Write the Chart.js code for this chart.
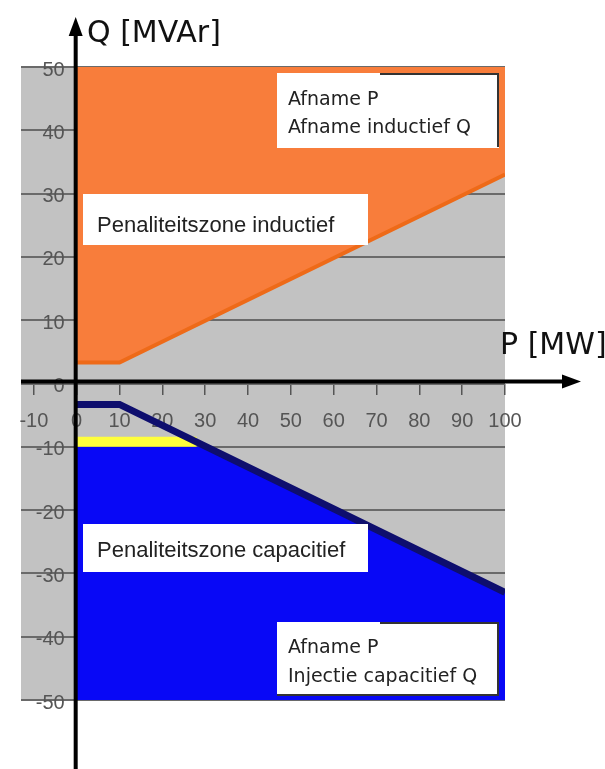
<!DOCTYPE html>
<html>
<head>
<meta charset="utf-8">
<script src="https://cdn.jsdelivr.net/npm/chart.js@4.4.1/dist/chart.umd.min.js"></script>
<style>
  html, body { margin: 0; padding: 0; background: #fff; }
  #wrap { width: 605px; height: 769px; }
</style>
</head>
<body>
<div id="wrap"><canvas id="pq-chart" width="605" height="769"></canvas></div>
<script>
// ===== P-Q diagram: penaliteitszones inductief / capacitief =====

// grens inductieve zone (onderkant oranje vlak)
const P_INDUCTIEF = [0, 10, 100];
const Q_INDUCTIEF = [3.3, 3.3, 33];

// grens capacitieve zone (donkerblauwe lijn)
const P_CAPACITIEF = [0, 10, 100];
const Q_CAPACITIEF = [-3.3, -3.3, -33];

// bovenkant blauw vlak
const P_BLAUW = [0, 30, 100];
const Q_BLAUW = [-10, -10, -33];

// gele strook
const P_GEEL = [0, 28];
const Q_GEEL = [-9.2, -9.2];

// as-verdeling
const P_TICKS = [-10, 0, 10, 20, 30, 40, 50, 60, 70, 80, 90, 100];
const Q_TICKS = [-50, -40, -30, -20, -10, 0, 10, 20, 30, 40, 50];

// tekstvakken
const LABELS = [
  ['Afname P', 'Afname inductief Q'],
  ['Penaliteitszone inductief'],
  ['Penaliteitszone capacitief'],
  ['Afname P', 'Injectie capacitief Q']
];

function toPoints(xs, ys) {
  return xs.map(function(x, i) { return { x: x, y: ys[i] }; });
}

// -----------------------------------------------
// grijze achtergrond, assen met pijlen, tekstvakken
// -----------------------------------------------
const pqPlugin = {
  id: 'pq',
  beforeDraw: function(chart) {
    const a = chart.chartArea;
    const ctx = chart.ctx;
    ctx.save();
    ctx.fillStyle = '#c2c2c2';
    ctx.fillRect(a.left, a.top, a.right - a.left, a.bottom - a.top);
    ctx.restore();
  },
  afterDraw: function(chart) {
    const ctx = chart.ctx;
    const a = chart.chartArea;
    const x0 = chart.scales.x.getPixelForValue(0) - 1;
    const y0 = chart.scales.y.getPixelForValue(0) - 2;

    ctx.save();
    // assen
    ctx.strokeStyle = '#000';
    ctx.fillStyle = '#000';
    ctx.lineWidth = 4;
    ctx.beginPath();
    ctx.moveTo(x0, 769);
    ctx.lineTo(x0, 30);
    ctx.moveTo(a.left, y0);
    ctx.lineTo(568, y0);
    ctx.stroke();
    // pijlpunten
    ctx.beginPath();
    ctx.moveTo(x0, 17);
    ctx.lineTo(x0 - 7, 36);
    ctx.lineTo(x0 + 7, 36);
    ctx.closePath();
    ctx.fill();
    ctx.beginPath();
    ctx.moveTo(581, y0);
    ctx.lineTo(562, y0 - 7);
    ctx.lineTo(562, y0 + 7);
    ctx.closePath();
    ctx.fill();

    // astitels
    ctx.fillStyle = '#111';
    ctx.font = '30px "DejaVu Sans"';
    ctx.textBaseline = 'alphabetic';
    ctx.fillText('Q [MVAr]', 87, 42);
    ctx.fillText('P [MW]', 500, 354);

    // tekstvakken
    drawBox(ctx, 277, 73, 222, 75, LABELS[0], '19px "DejaVu Sans"', 288, [105, 133], 'top');
    drawBox(ctx, 83, 194, 285, 51, LABELS[1], '22px "Liberation Sans"', 97, [232], null);
    drawBox(ctx, 83, 524, 285, 48, LABELS[2], '22px "Liberation Sans"', 97, [557], null);
    drawBox(ctx, 277, 622, 222, 74, LABELS[3], '19px "DejaVu Sans"', 288, [653, 682], 'bottom');
    ctx.restore();
  }
};

function drawBox(ctx, x, y, w, h, lines, font, tx, baselines, shadow) {
  ctx.fillStyle = '#fff';
  ctx.fillRect(x, y, w, h);
  if (shadow) {
    ctx.strokeStyle = '#333';
    ctx.lineWidth = 2;
    ctx.beginPath();
    ctx.moveTo(x + 103, y + 1);
    ctx.lineTo(x + w - 1, y + 1);
    ctx.lineTo(x + w - 1, y + h - 1);
    if (shadow === 'bottom') ctx.lineTo(x, y + h - 1);
    ctx.stroke();
  }
  ctx.fillStyle = '#222';
  ctx.font = font;
  lines.forEach(function(t, i) { ctx.fillText(t, tx, baselines[i]); });
}

const tickFont = { family: '"Liberation Sans Narrow", "Liberation Sans"', size: 20 };

new Chart(document.getElementById('pq-chart').getContext('2d'), {
  type: 'line',
  data: {
    datasets: [
      {
        label: 'inductief',
        data: toPoints(P_INDUCTIEF, Q_INDUCTIEF),
        borderColor: '#ee6a18',
        borderWidth: 4,
        backgroundColor: '#f87d3b',
        fill: 'end',
        pointRadius: 0,
        order: 4
      },
      {
        label: 'blauw',
        data: toPoints(P_BLAUW, Q_BLAUW),
        borderWidth: 0,
        backgroundColor: '#0808f6',
        fill: 'start',
        pointRadius: 0,
        order: 3
      },
      {
        label: 'geel',
        data: toPoints(P_GEEL, Q_GEEL),
        borderColor: '#ffff3c',
        borderWidth: 10,
        fill: false,
        pointRadius: 0,
        order: 2
      },
      {
        label: 'capacitief',
        data: toPoints(P_CAPACITIEF, Q_CAPACITIEF),
        borderColor: '#0e0e6e',
        borderWidth: 7,
        fill: false,
        pointRadius: 0,
        order: 1
      }
    ]
  },
  options: {
    responsive: false,
    animation: false,
    events: [],
    layout: { padding: { left: 21, top: 67, right: 100, bottom: 69 } },
    plugins: { legend: { display: false }, tooltip: { enabled: false } },
    scales: {
      x: {
        type: 'linear',
        min: -13,
        max: 100,
        position: { y: 0 },
        afterBuildTicks: function(scale) { scale.ticks = P_TICKS.map(function(v) { return { value: v }; }); },
        border: { display: false },
        grid: { drawOnChartArea: false, drawTicks: true, tickLength: 11, color: '#555', lineWidth: 1.5 },
        ticks: { color: '#555', font: tickFont, padding: 15, maxRotation: 0, autoSkip: false }
      },
      y: {
        type: 'linear',
        min: -50,
        max: 50,
        // labels rechts uitgelijnd iets links van de P=0 as
        position: { x: -2.8 },
        afterBuildTicks: function(scale) { scale.ticks = Q_TICKS.map(function(v) { return { value: v }; }); },
        border: { display: false },
        grid: { drawTicks: false, color: '#6a6a6a', lineWidth: 2 },
        ticks: { color: '#555', font: tickFont, labelOffset: 3, autoSkip: false }
      }
    }
  },
  plugins: [pqPlugin]
});
</script>
</body>
</html>
